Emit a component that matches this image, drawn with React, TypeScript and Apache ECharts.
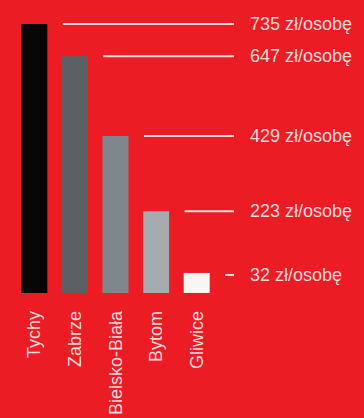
import React, { useEffect, useRef } from "react";
import * as echarts from "echarts";

const cities = ["Tychy", "Zabrze", "Bielsko-Biała", "Bytom", "Gliwice"];
const values = [735, 647, 429, 223, 32];
const unit = "zł/osobę";
const barColors = ["#060606", "#5b6064", "#80878c", "#a5abaf", "#f7f7f2"];

const BG = "#ec1c24";
const TEXT = "#fbdada";
const FONT = "Liberation Sans, Arial, sans-serif";

export default function App() {
  const ref = useRef<HTMLDivElement>(null);
  useEffect(() => {
    document.body.style.margin = "0";
    document.body.style.background = BG;
    const chart = echarts.init(ref.current!, null, { renderer: "svg" });
    chart.setOption({
      animation: false,
      backgroundColor: BG,
      grid: { left: 14, width: 203, top: 24, bottom: 125, containLabel: false },
      xAxis: {
        type: "category",
        data: cities,
        axisLine: { show: false },
        axisTick: { show: false },
        splitLine: { show: false },
        axisLabel: {
          rotate: 90,
          margin: 18,
          color: TEXT,
          fontSize: 18,
          fontFamily: FONT,
        },
      },
      yAxis: {
        type: "value",
        min: 0,
        max: 735,
        show: false,
        splitLine: { show: false },
      },
      series: [
        {
          type: "bar",
          barWidth: 26,
          barMinHeight: 20,
          data: values.map((v, i) => ({ value: v, itemStyle: { color: barColors[i] } })),
        },
        {
          type: "custom",
          clip: false,
          data: values.map((v, i) => [i, v]),
          encode: { x: 0, y: 1 },
          renderItem: (params: any, api: any) => {
            const idx = api.value(0);
            const val = api.value(1);
            const p = api.coord([idx, val]);
            const base = api.coord([idx, 0]);
            const band = api.size([1, 0])[0];
            const y = Math.min(p[1], base[1] - 18);
            const x1 = p[0] + band * 0.7;
            return {
              type: "group",
              children: [
                {
                  type: "line",
                  shape: { x1, y1: y, x2: 234, y2: y },
                  style: { stroke: TEXT, lineWidth: 2 },
                },
                {
                  type: "text",
                  style: {
                    text: `${val} ${unit}`,
                    x: 250,
                    y,
                    verticalAlign: "middle",
                    align: "left",
                    fill: TEXT,
                    fontSize: 18,
                    fontFamily: FONT,
                  },
                },
              ],
            };
          },
        },
      ],
    });
    return () => chart.dispose();
  }, []);
  return <div ref={ref} style={{ width: 364, height: 418 }} />;
}
